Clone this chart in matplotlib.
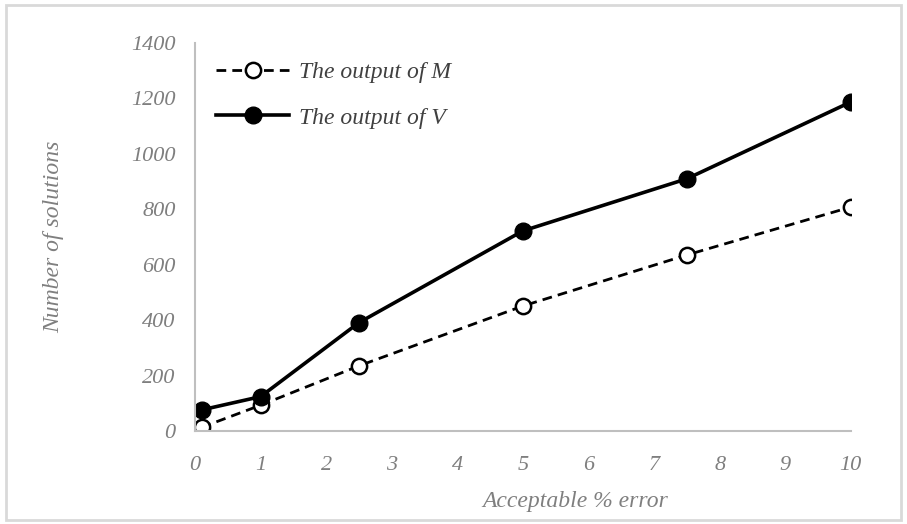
import matplotlib.pyplot as plt
from matplotlib.patches import Rectangle

error_pct = [0.1, 1, 2.5, 5, 7.5, 10]
output_m = [13, 93, 235, 451, 635, 808]
output_v = [76, 124, 391, 722, 910, 1187]

grey = '#7f7f7f'
font = {'family': 'Liberation Serif', 'style': 'italic'}

fig = plt.figure(figsize=(9.07, 5.24), dpi=100)
ax = fig.add_axes([0.215, 0.1775, 0.723, 0.7405])

ax.plot(error_pct, output_m, color='k', linestyle='--', dashes=(3.5, 2.2), linewidth=2,
        marker='o', markersize=11, markerfacecolor='white', markeredgewidth=1.8,
        label='The output of M')
ax.plot(error_pct, output_v, color='k', linestyle='-', linewidth=2.6,
        marker='o', markersize=12, markerfacecolor='k', label='The output of V')

ax.set_xlim(0, 10)
ax.set_ylim(0, 1400)
ax.set_xticks(range(0, 11))
ax.set_yticks(range(0, 1401, 200))
ax.tick_params(length=0, labelcolor=grey, labelsize=16)
ax.tick_params(axis='y', pad=14)
ax.tick_params(axis='x', pad=18)
for lbl in ax.get_xticklabels() + ax.get_yticklabels():
    lbl.set_fontfamily('Liberation Serif')
    lbl.set_fontstyle('italic')

for s in ['top', 'right']:
    ax.spines[s].set_visible(False)
for s in ['left', 'bottom']:
    ax.spines[s].set_color('#bfbfbf')
    ax.spines[s].set_linewidth(1.5)

ax.set_ylabel('Number of solutions', color=grey, fontsize=17, **font)
ax.yaxis.set_label_coords(-0.2, 0.5)
ax.set_xlabel('Acceptable % error', color=grey, fontsize=17, **font)
ax.xaxis.set_label_coords(0.58, -0.155)

# legend: short handles, a touch higher than default
leg = ax.legend(loc='upper left', bbox_to_anchor=(0.0, 1.006), frameon=False,
                handlelength=3.1, handletextpad=0.4, labelspacing=1.0,
                prop={'family': 'Liberation Serif', 'style': 'italic', 'size': 17})
for t in leg.get_texts():
    t.set_color('#404040')

fig.patches.append(Rectangle((0.007, 0.008), 0.986, 0.982, transform=fig.transFigure,
                             fill=False, edgecolor='#d9d9d9', linewidth=2))

fig.savefig('out.png', dpi=100)
